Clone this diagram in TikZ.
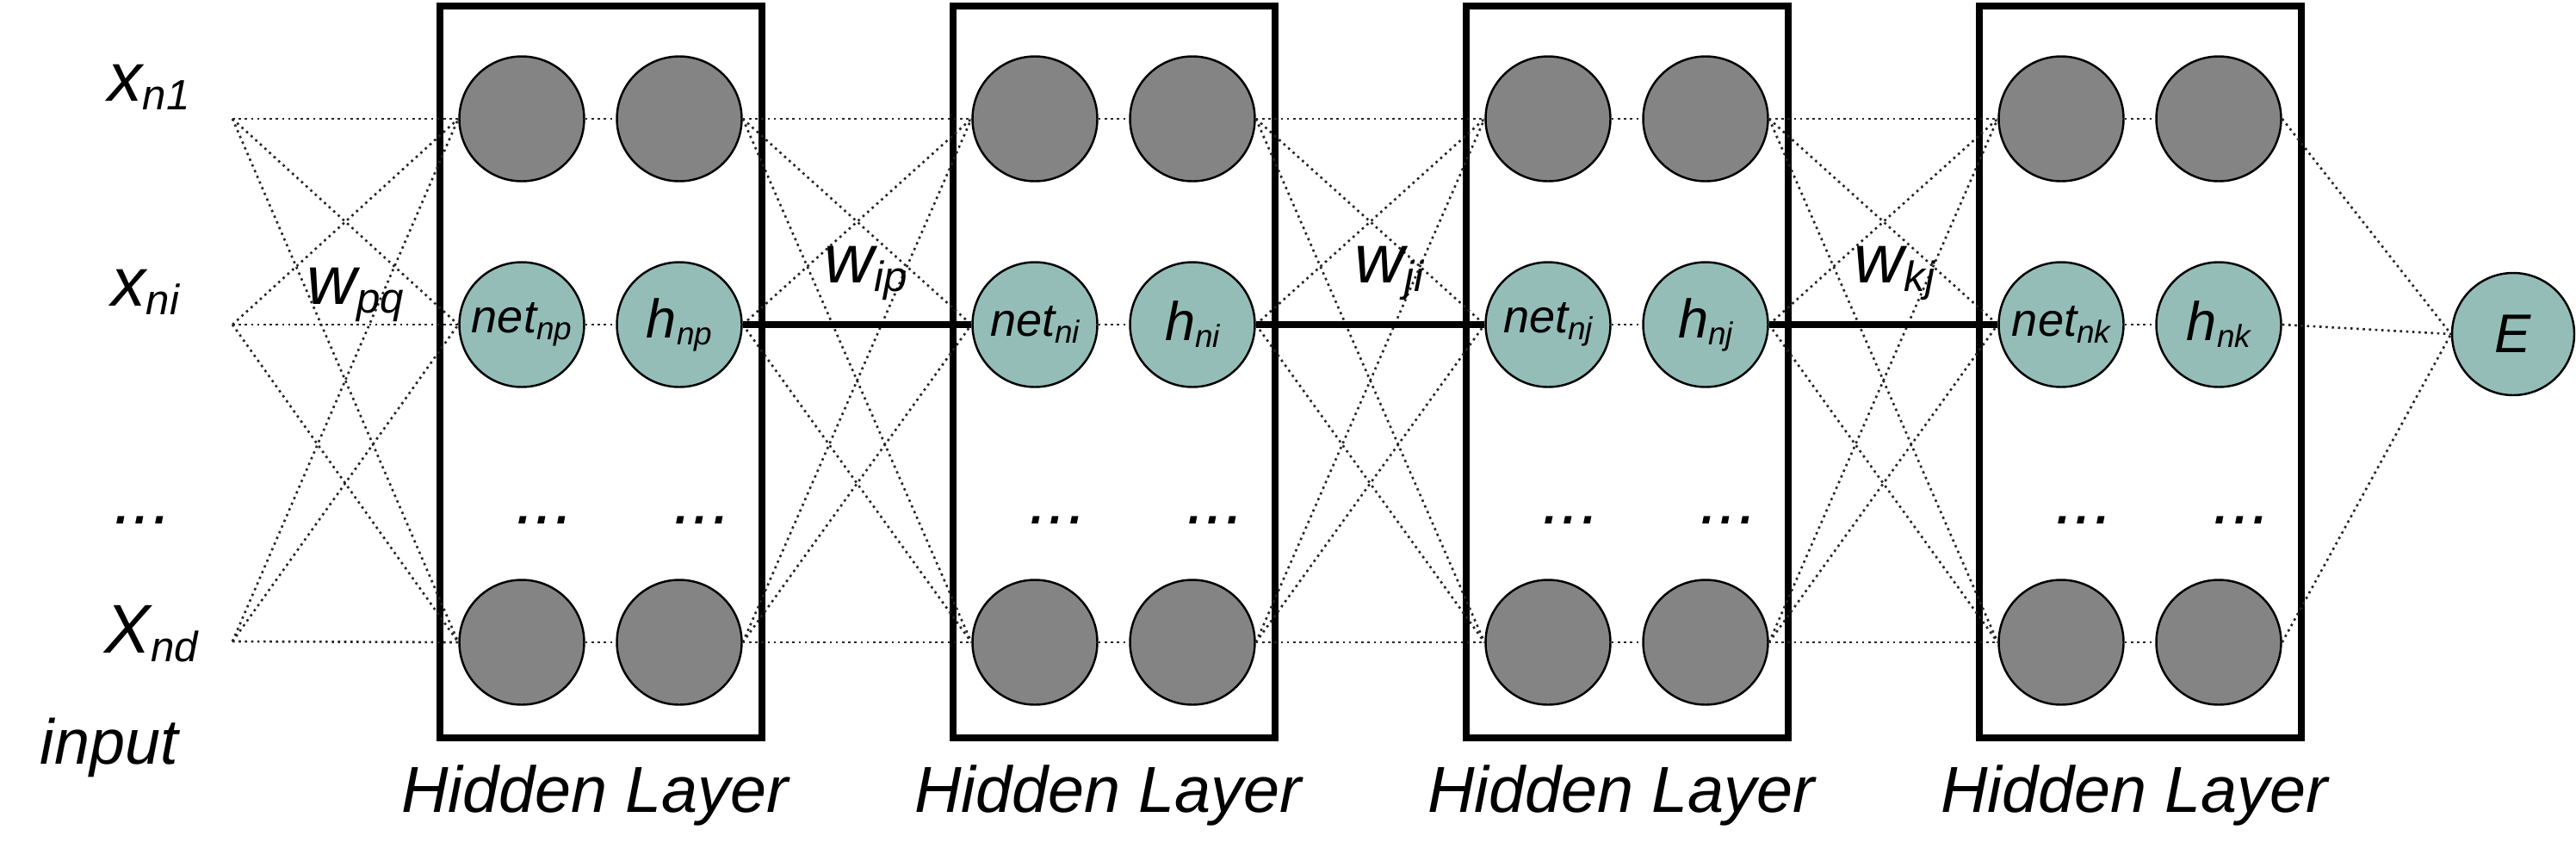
\documentclass[tikz,border=0pt]{standalone}
\usepackage{fontspec}
\setmainfont{Liberation Sans}
\definecolor{unitgray}{RGB}{132,132,132}
\definecolor{unitteal}{RGB}{148,189,184}
\newcommand{\biglbl}{\fontsize{22.8pt}{27pt}\selectfont\itshape}
\newcommand{\hidlbl}{\fontsize{21.5pt}{25pt}\selectfont\itshape}
\newcommand{\lsub}[1]{\raisebox{-0.1cm}{\fontsize{14pt}{16pt}\selectfont #1}}
\newcommand{\csub}[1]{\raisebox{-0.08cm}{\fontsize{10.5pt}{12pt}\selectfont #1}}
\newcommand{\netlbl}[1]{{\fontsize{15.4pt}{18pt}\selectfont net}\csub{#1}}
\newcommand{\hlbl}[1]{{\fontsize{18pt}{20pt}\selectfont h}\csub{#1}}
\tikzset{
  unit/.style={circle, draw=black, line width=0.7pt, minimum size=1.45cm, inner sep=0pt, font=\itshape},
  idle/.style={unit, fill=unitgray},
  live/.style={unit, fill=unitteal},
  conn/.style={black!85, line width=0.75pt, dash pattern=on 0.75pt off 1.3pt},
  bus/.style={line width=2.3pt},
  layerbox/.style={line width=2.1pt},
  lbl/.style={inner sep=0pt, anchor=base west, font=\biglbl},
}

\begin{document}
\begin{tikzpicture}
\useasboundingbox (0,0) rectangle (29.92,-10.07);

%Input
\coordinate (in-t) at (2.70,-1.38);
\coordinate (in-m) at (2.70,-3.77);
\coordinate (in-b) at (2.70,-7.45);
\node[lbl] (x1) at (1.25,-1.17) {x\lsub{n1}};
\node[lbl] (xi) at (1.29,-3.55) {x\lsub{ni}};
\node[lbl] (xdots) at (1.32,-6.08) {...};
\node[lbl] (xd) at (1.21,-7.58) {X\lsub{nd}};
\node[lbl, font=\fontsize{21pt}{24pt}\selectfont\itshape] (inp) at (0.46,-8.87) {input};

%Hidden layers
\foreach \l/\x/\s in {1/5.11/np,2/11.07/ni,3/17.03/nj,4/22.99/nk}{
  \node[idle] (a\l-t) at ({\x+0.95},-1.38) {};
  \node[idle] (b\l-t) at ({\x+2.78},-1.38) {};
  \node[live] (a\l-m) at ({\x+0.95},-3.77) {\netlbl{\s}};
  \node[live] (b\l-m) at ({\x+2.78},-3.77) {\hlbl{\s}};
  \node[idle] (a\l-b) at ({\x+0.95},-7.46) {};
  \node[idle] (b\l-b) at ({\x+2.78},-7.46) {};
  \node[lbl] (da\l) at ({\x+0.88},-6.08) {...};
  \node[lbl] (db\l) at ({\x+2.71},-6.08) {...};
  \node[font=\hidlbl, anchor=base, inner sep=0pt] (hl\l) at ({\x+1.80},-9.43) {Hidden Layer};
  \foreach \r in {t,m,b} \draw[conn] (a\l-\r.east) -- (b\l-\r.west);
  \draw[layerbox] (\x,-0.07) rectangle ({\x+3.74},-8.57);
}

%Output
\node[live, minimum size=1.42cm, font=\fontsize{18pt}{20pt}\selectfont\itshape] (E) at (29.19,-3.88) {E};

%Weights
\foreach \r in {t,m,b}
  \foreach \q in {t,m,b}
    \draw[conn] (in-\r) -- (a1-\q.west);
\foreach \l/\m in {1/2,2/3,3/4}
  \foreach \r in {t,m,b}
    \foreach \q in {t,m,b}
      \draw[conn] (b\l-\r.east) -- (a\m-\q.west);
\foreach \r in {t,m,b} \draw[conn] (b4-\r.east) -- (E.west);
\foreach \l/\m in {1/2,2/3,3/4} \draw[bus] (b\l-m.east) -- (a\m-m.west);

\node[lbl] (wpq) at (3.56,-3.53) {w\lsub{pq}};
\node[lbl] (wip) at (9.57,-3.28) {w\lsub{ip}};
\node[lbl] (wji) at (15.73,-3.28) {w\lsub{ji}};
\node[lbl] (wkj) at (21.53,-3.28) {w\lsub{kj}};

\end{tikzpicture}
\end{document}
